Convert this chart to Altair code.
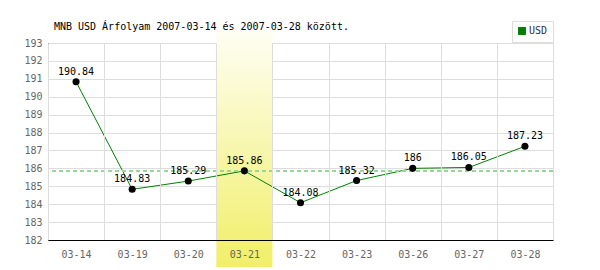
import altair as alt
import pandas as pd

dates = ["03-14", "03-19", "03-20", "03-21", "03-22", "03-23", "03-26", "03-27", "03-28"]
rates = [190.84, 184.83, 185.29, 185.86, 184.08, 185.32, 186.0, 186.05, 187.23]
labels = ["190.84", "184.83", "185.29", "185.86", "184.08", "185.32", "186", "186.05", "187.23"]
series_name = "USD"
highlight_date = "03-21"
highlight_value = 185.86
y_ticks = list(range(182, 194))
title_text = "MNB USD Árfolyam 2007-03-14 és 2007-03-28 között."

df = pd.DataFrame({"date": dates, "rate": rates, "label": labels, "series": series_name})
hl = pd.DataFrame({"date": [highlight_date]})

W, H = 505, 197
FONT = "DejaVu Sans Mono"

xscale = alt.Scale(domain=dates, paddingInner=0, paddingOuter=0)
yscale = alt.Scale(domain=[182, 193], nice=False, zero=False)

x_axis = alt.Axis(tickBand="extent", ticks=False, labelAngle=0,
                  domainColor="#000", labelColor="#666", labelFont=FONT,
                  labelFontSize=10, labelPadding=9, gridColor="#ddd", grid=True,
                  labelOverlap=False)
y_axis = alt.Axis(values=y_ticks, ticks=False, domainColor="#000",
                  labelColor="#666", labelFont=FONT, labelFontSize=10,
                  labelPadding=6, gridColor="#ddd", labelOverlap=False,
                  labelFlush=False)

x_enc = alt.X("date:N", scale=xscale, sort=dates, title=None, axis=x_axis)
y_enc = alt.Y("rate:Q", scale=yscale, title=None, axis=y_axis)

band = alt.Chart(hl).mark_rect(
    clip=False,
    color=alt.Gradient(gradient="linear",
                       stops=[alt.GradientStop(color="#fefef4", offset=0),
                              alt.GradientStop(color="#f1ef68", offset=1)],
                       x1=0, x2=0, y1=0, y2=1)
).encode(x=x_enc, y=alt.value(-13), y2=alt.value(H + 27))

rule = alt.Chart(df).mark_rule(color="#99d699", strokeDash=[4, 3], strokeWidth=1).encode(
    y=alt.YDatum(highlight_value, type="quantitative", scale=yscale, axis=y_axis, title=None))

line = alt.Chart(df).mark_line(strokeWidth=1).encode(
    x=x_enc, y=y_enc,
    color=alt.Color("series:N", scale=alt.Scale(range=["#008000"]), title=None,
                    legend=alt.Legend(orient="none", legendX=464, legendY=-22,
                                      symbolType="square", symbolFillColor="#008000",
                                      symbolStrokeColor="#444", symbolStrokeWidth=1,
                                      symbolSize=50, labelFont=FONT, labelFontSize=10,
                                      labelColor="#333", strokeColor="#ddd", fillColor="white",
                                      padding=5, labelOffset=2)))

pts = alt.Chart(df).mark_circle(size=50, color="black", opacity=1).encode(x=x_enc, y=y_enc)

txt = alt.Chart(df).mark_text(font=FONT, fontSize=10, color="black", dy=-5, baseline="bottom").encode(
    x=x_enc, y=y_enc, text="label:N")

chart = alt.layer(band, line, rule, pts, txt).properties(
    width=W, height=H,
    autosize="none",
    padding={"left": 48, "top": 43, "right": 47, "bottom": 30},
    title=alt.TitleParams(title_text, anchor="start", dx=30, offset=-11, font=FONT,
                          fontSize=10, fontWeight="normal", color="#000")
).configure_view(stroke="#ddd").configure(background="white")

chart.save("out.html", embed_options={"renderer": "svg", "actions": False})
